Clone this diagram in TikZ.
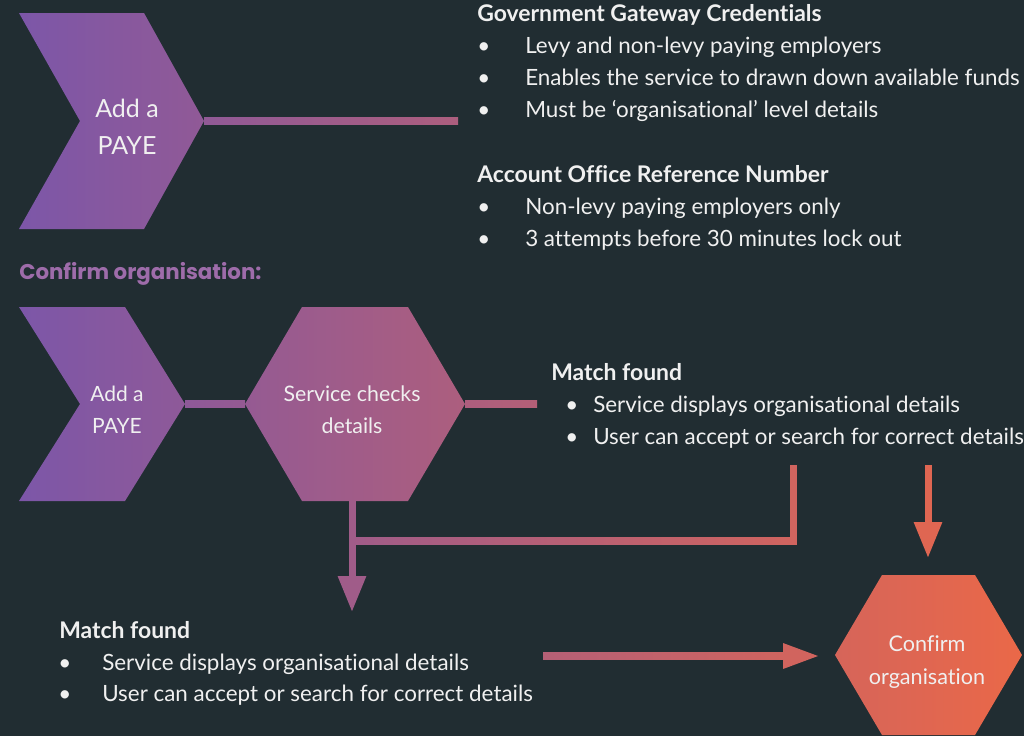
\documentclass[tikz,border=0pt]{standalone}
\usepackage{fontspec}
\setmainfont{Lato}[Ligatures=CommonOff]
\newfontfamily\popfont{Poppins}
\usetikzlibrary{arrows.meta,calc}
\definecolor{bg}{RGB}{33,45,50}
\definecolor{gL}{RGB}{122,86,170}
\definecolor{gR}{RGB}{234,104,72}
\definecolor{conf}{RGB}{158,108,170}
\definecolor{txt}{RGB}{240,240,240}
\begin{document}
\begin{tikzpicture}[x=0.75pt,y=-0.75pt,
  body/.style={text=txt, font=\fontsize{16.8}{18}\selectfont, anchor=base west, inner sep=0pt},
  head/.style={body, font=\bfseries\fontsize{17.2}{18}\selectfont},
  bul/.style={body, font=\fontsize{16.8}{18}\selectfont},
  shapetext/.style={text=txt, align=center, inner sep=0pt},
  conn/.style={line width=5.25pt},
  tipA/.style={-{Triangle[length=27pt,width=20pt]}}
]
\fill[bg] (0,0) rectangle (1024,736);
\useasboundingbox (0,0) rectangle (1024,736);

% ---------- top chevron ----------
\coordinate (c1tip) at (204,121);
\shade[left color=gR!2!gL, right color=gR!20!gL]
  (19,13) -- (144,13) -- (c1tip) -- (144,229) -- (19,229) -- (80,121) -- cycle;
\node[shapetext, font=\fontsize{18.75}{27.75}\selectfont] (chevA) at (127,127) {Add a\\PAYE};
\coordinate (ggend) at (458,121);
\shade[left color=gR!20!gL, right color=gR!45!gL]
  ($(c1tip)+(0,-3.5)$) rectangle ($(ggend)+(0,3.5)$);

% ---------- top text ----------
\node[head] (gg) at (477,21) {Government Gateway Credentials};
\node[bul] (b1) at (477,53) {•};
\node[body] (t1) at (525,53) {Levy and non-levy paying employers};
\node[bul] (b2) at (477,85) {•};
\node[body] (t2) at (525,85) {Enables the service to drawn down available funds};
\node[bul] (b3) at (477,117) {•};
\node[body] (t3) at (525,117) {Must be ‘organisational’ level details};
\node[head] (ao) at (477,182) {Account Office Reference Number};
\node[bul] (b4) at (477,214) {•};
\node[body] (t4) at (525,214) {Non-levy paying employers only};
\node[bul] (b5) at (477,246) {•};
\node[body] (t5) at (525,246) {3 attempts before 30 minutes lock out};

\node[anchor=base west, inner sep=0pt, text=conf, font=\popfont\bfseries\fontsize{16}{18}\selectfont] (co) at (19,279) {Confirm organisation:};

% ---------- second row ----------
\coordinate (c2tip) at (185,404);
\shade[left color=gR!2!gL, right color=gR!18!gL]
  (19,307) -- (125,307) -- (c2tip) -- (125,501) -- (19,501) -- (80,404) -- cycle;
\node[shapetext, font=\fontsize{15.75}{24}\selectfont] (chevB) at (117,410) {Add a\\PAYE};

\coordinate (hexW) at (245,404);
\coordinate (hexE) at (465,404);
\coordinate (hexS) at (352,501);
\shade[left color=gR!24!gL, right color=gR!45!gL]
  (hexW) -- (302,307) -- (408,307) -- (hexE) -- (408,501) -- (302,501) -- cycle;
\node[shapetext, font=\fontsize{16}{24}\selectfont] (hex) at (352,410) {Service checks\\details};

\shade[left color=gR!18!gL, right color=gR!24!gL]
  ($(c2tip)+(0,-3.5)$) rectangle ($(hexW)+(0,3.5)$);
\coordinate (mfA) at (537,404);
\shade[left color=gR!45!gL, right color=gR!52!gL]
  ($(hexE)+(0,-3.5)$) rectangle ($(mfA)+(0,3.5)$);

\node[head] (mf1) at (551,380) {Match found};
\node[bul] (b6) at (565,412) {•};
\node[body] (t6) at (593,412) {Service displays organisational details};
\node[bul] (b7) at (565,444) {•};
\node[body] (t7) at (593,444) {User can accept or search for correct details};

% ---------- connectors down ----------
\coordinate (jn) at (352,541);
\coordinate (corner) at (793,541);
\coordinate (mfB) at (793,465);
\coordinate (arr1) at (352,612);
\shade[left color=gR!34!gL, right color=gR!77!gL]
  ($(jn)+(0,-3.5)$) rectangle ($(corner)+(3.5,3.5)$);
\fill[gR!77!gL] ($(mfB)+(-3.5,0)$) rectangle ($(corner)+(3.5,3.5)$);
\draw[conn, gR!34!gL, tipA] (hexS) -- (arr1);

\coordinate (mfC) at (928,465);
\coordinate (arr2) at (928,558);
\draw[conn, gR!90!gL, tipA] (mfC) -- (arr2);

% ---------- bottom text ----------
\node[head] (mf2) at (59,638) {Match found};
\node[bul] (b8) at (58,670) {•};
\node[body] (t8) at (102,670) {Service displays organisational details};
\node[bul] (b9) at (58,701) {•};
\node[body] (t9) at (102,701) {User can accept or search for correct details};

% ---------- bottom arrow ----------
\coordinate (ba) at (543,656);
\coordinate (bt) at (818,656);
\shade[left color=gR!53!gL, right color=gR!77!gL]
  ($(ba)+(0,-3.5)$) rectangle ($(bt)+(-33,3.5)$);
\fill[gR!78!gL] ($(bt)+(-35,-13)$) -- (bt) -- ($(bt)+(-35,13)$) -- cycle;

% ---------- confirm hexagon ----------
\shade[left color=gR!82!gL, right color=gR!100!gL]
  (835,655) -- (882,575) -- (975,575) -- (1022,655) -- (975,735) -- (882,735) -- cycle;
\node[shapetext, font=\fontsize{16.2}{24.75}\selectfont] (confirm) at (927,662) {Confirm\\organisation};
\end{tikzpicture}
\end{document}
